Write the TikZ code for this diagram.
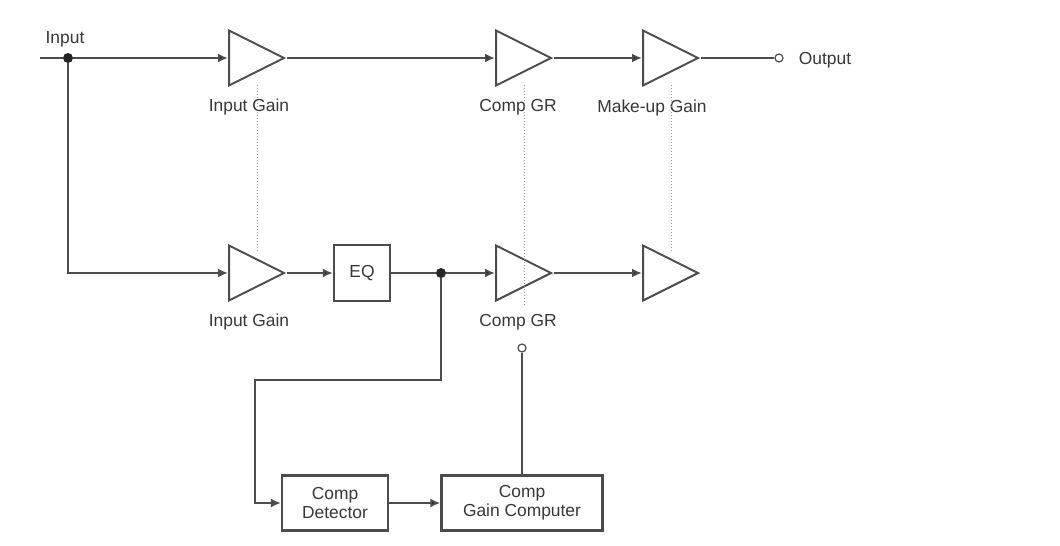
\documentclass[tikz,border=0pt]{standalone}
\usepackage{fontspec}
\setmainfont{Liberation Sans}
\usetikzlibrary{shapes.geometric,arrows.meta,calc}

\begin{document}
\begin{tikzpicture}[x=0.5pt,y=-0.5pt,>={Latex[length=5pt,width=4.5pt]},
    every node/.style={font=\fontsize{8.7}{9.6}\selectfont, text=black!78},
    amp/.style={draw=black!70, line width=1pt, isosceles triangle, isosceles triangle stretches,
        minimum width=27.5pt, minimum height=27.5pt, inner sep=0pt, anchor=lower side},
    blk/.style={draw=black!70, line width=1.1pt, align=center, inner sep=0pt},
    dot/.style={circle, fill=black!85, inner sep=0pt, minimum size=5pt},
    port/.style={circle, draw=black!70, fill=white, line width=0.6pt, inner sep=0pt, minimum size=4pt},
    sig/.style={draw=black!70, line width=1pt},
    gang/.style={draw=black!40, densely dotted, line width=0.5pt}]
    \fill[white] (0,0) rectangle (1060,546);

    % main path
    \coordinate (in) at (40,58);
    \node[dot] at (68,58)(jin){};
    \node[amp] at (228,58)(g1){};
    \node[amp] at (495,58)(c1){};
    \node[amp] at (642,58)(m1){};
    \node[port] at (779,58)(out){};
    \node at (65,39)(lin){Input};
    \node at (825,60)(lout){Output};
    \node at (249,107)(lg1){Input Gain};
    \node at (518,107)(lc1){Comp GR};
    \node at (652,108)(lm1){Make-up Gain};

    % side chain
    \node[amp] at (228,273)(g2){};
    \node[blk, minimum width=28pt, minimum height=28pt] at (362,273)(eq){EQ};
    \node[dot] at (441,273)(jeq){};
    \node[amp] at (495,273)(c2){};
    \node[amp] at (642,273)(m2){};
    \node at (249,322)(lg2){Input Gain};
    \node at (518,322)(lc2){Comp GR};
    \node[port] at (522,348)(ctl){};
    \coordinate (bend) at (255,380);
    \node[blk, minimum width=53pt, minimum height=27.5pt] at (335,503)(det){Comp\\Detector};
    \node[blk, minimum width=80.5pt, minimum height=27.5pt] at (522,503)(gc){Comp\\Gain Computer};

    \path[sig]
        (in) edge (jin)
        (jin) edge[->] (g1)
        (g1.apex) edge[->] (c1)
        (c1.apex) edge[->] (m1)
        (m1.apex) edge (out)
        (g2.apex) edge[->] (eq)
        (eq) edge (jeq)
        (jeq) edge[->] (c2)
        (c2.apex) edge[->] (m2)
        (det) edge[->] (gc)
        (gc.north) edge (ctl)
        ;
    \draw[sig,->] (jin) |- (g2);
    \draw[sig,->] (jeq) |- (bend) |- (det);

    % ganged controls
    \draw[gang] ($(g1.lower side)!.5!(g1.apex)+(0,27)$) -- ($(g2.lower side)!.5!(g2.apex)+(0,-22)$);
    \draw[gang] ($(c1.lower side)!.5!(c1.apex)+(0,27)$) -- ($(c2.lower side)!.5!(c2.apex)+(0,32)$);
    \draw[gang] ($(m1.lower side)!.5!(m1.apex)+(0,27)$) -- ($(m2.lower side)!.5!(m2.apex)+(0,-22)$);
\end{tikzpicture}
\end{document}
